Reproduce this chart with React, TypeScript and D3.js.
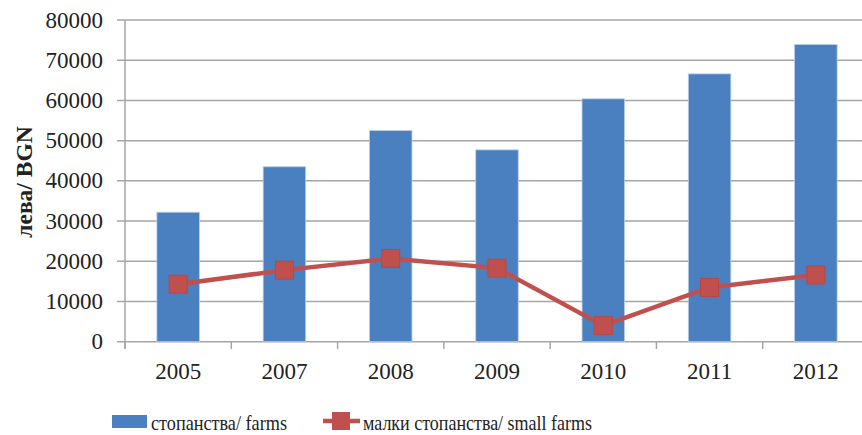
import React, { useRef, useEffect } from 'react'
import * as d3 from 'd3'

const years = ['2005', '2007', '2008', '2009', '2010', '2011', '2012']
const farms = [32200, 43500, 52500, 47700, 60400, 66600, 73900]
const smallFarms = [14300, 17800, 20700, 18300, 4000, 13500, 16600]
const yTicks = [0, 10000, 20000, 30000, 40000, 50000, 60000, 70000, 80000]

const App = () => {
    const svgRef = useRef<SVGSVGElement>(null)

    useEffect(() => {
        const svg = d3.select(svgRef.current)
        svg.selectAll('*').remove()
        const font = '"Liberation Serif", "Times New Roman", serif'

        const x = d3.scaleBand().domain(years).range([125, 869]).padding(0)
        const y = d3.scaleLinear().domain([0, 80000]).range([341.7, 20])
        const step = x.step()
        const barW = step * 0.4

        // gridlines
        svg.append('g')
            .selectAll('line')
            .data(yTicks)
            .join('line')
            .attr('x1', 117)
            .attr('x2', 869)
            .attr('y1', d => y(d))
            .attr('y2', d => y(d))
            .attr('stroke', '#a6a6a6')
            .attr('stroke-width', 1.5)

        // y axis line
        svg.append('line')
            .attr('x1', 125).attr('x2', 125)
            .attr('y1', y(80000)).attr('y2', 349)
            .attr('stroke', '#a6a6a6').attr('stroke-width', 1.5)

        // x ticks
        svg.append('g')
            .selectAll('line')
            .data(d3.range(years.length + 1))
            .join('line')
            .attr('x1', i => 125 + i * step)
            .attr('x2', i => 125 + i * step)
            .attr('y1', y(0))
            .attr('y2', 349)
            .attr('stroke', '#a6a6a6')
            .attr('stroke-width', 1.5)

        // y labels
        svg.append('g')
            .selectAll('text')
            .data(yTicks)
            .join('text')
            .attr('x', 103)
            .attr('y', d => y(d))
            .attr('dy', '0.33em')
            .attr('text-anchor', 'end')
            .style('font-family', font)
            .style('font-size', '23px')
            .attr('fill', '#222')
            .text(d => d)

        // x labels
        svg.append('g')
            .selectAll('text')
            .data(years)
            .join('text')
            .attr('x', d => x(d)! + step / 2)
            .attr('y', 378.5)
            .attr('text-anchor', 'middle')
            .style('font-family', font)
            .style('font-size', '23px')
            .attr('fill', '#222')
            .text(d => d)

        // y title
        svg.append('text')
            .attr('transform', 'translate(32,182) rotate(-90)')
            .attr('text-anchor', 'middle')
            .style('font-family', font)
            .style('font-size', '23.5px')
            .style('font-weight', 'bold')
            .attr('fill', '#222')
            .text('лева/ BGN')

        // bars
        svg.append('g')
            .selectAll('rect')
            .data(farms)
            .join('rect')
            .attr('x', (d, i) => x(years[i])! + step / 2 - barW / 2)
            .attr('y', d => y(d))
            .attr('width', barW)
            .attr('height', d => y(0) - y(d))
            .attr('fill', '#4a80bf')
            .attr('stroke', '#b9cde5')
            .attr('stroke-width', 0.8)

        // line
        const lineGen = d3.line<number>()
            .x((d, i) => x(years[i])! + step / 2)
            .y(d => y(d))

        svg.append('path')
            .datum(smallFarms)
            .attr('d', lineGen)
            .attr('fill', 'none')
            .attr('stroke', '#c0504d')
            .attr('stroke-width', 4.5)

        svg.append('g')
            .selectAll('rect')
            .data(smallFarms)
            .join('rect')
            .attr('x', (d, i) => x(years[i])! + step / 2 - 9)
            .attr('y', d => y(d) - 9)
            .attr('width', 18)
            .attr('height', 18)
            .attr('fill', '#c0504d')
            .attr('stroke', '#b84845')
            .attr('stroke-width', 1)

        // legend (text is condensed in the original, so force widths)
        const lg = svg.append('g')
        lg.append('rect')
            .attr('x', 112).attr('y', 415)
            .attr('width', 35).attr('height', 13)
            .attr('fill', '#4a80bf')
        lg.append('text')
            .attr('x', 151).attr('y', 430)
            .attr('textLength', 136)
            .attr('lengthAdjust', 'spacingAndGlyphs')
            .style('font-family', font)
            .style('font-size', '22px')
            .attr('fill', '#222')
            .text('стопанства/ farms')
        lg.append('line')
            .attr('x1', 323).attr('x2', 360)
            .attr('y1', 421).attr('y2', 421)
            .attr('stroke', '#c0504d').attr('stroke-width', 4.5)
        lg.append('rect')
            .attr('x', 332).attr('y', 412)
            .attr('width', 18).attr('height', 18)
            .attr('fill', '#c0504d')
        lg.append('text')
            .attr('x', 363).attr('y', 430)
            .attr('textLength', 229)
            .attr('lengthAdjust', 'spacingAndGlyphs')
            .style('font-family', font)
            .style('font-size', '22px')
            .attr('fill', '#222')
            .text('малки стопанства/ small farms')
    }, [])

    return (
        <svg ref={svgRef} width={862} height={435}
            style={{ position: 'absolute', left: 0, top: 0, background: '#fff' }} />
    )
}

export default App
